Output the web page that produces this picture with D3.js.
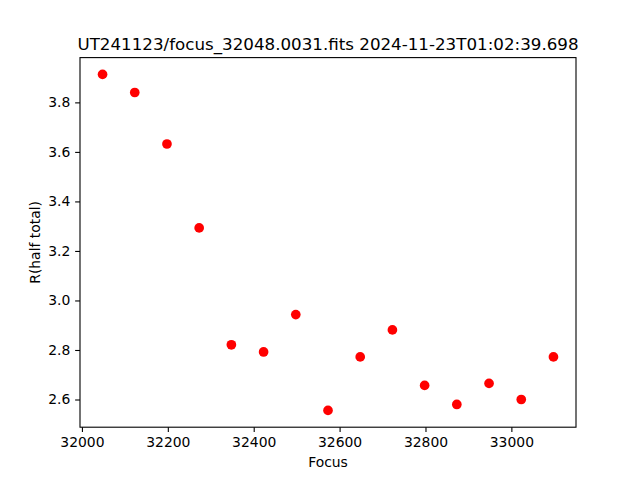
<!DOCTYPE html>
<html><head><meta charset="utf-8">
<script src="https://cdn.jsdelivr.net/npm/d3@7"></script>
<style>body{margin:0;background:#fff}svg{display:block}text{font-family:"DejaVu Sans",sans-serif;fill:#000}</style>
</head><body>
<script>
const focus = [32048,32123,32198,32273,32348,32423,32498,32573,32648,32723,32798,32873,32948,33023,33098];
const rHalf = [3.913,3.840,3.632,3.293,2.821,2.792,2.943,2.556,2.772,2.881,2.657,2.580,2.665,2.600,2.772];
const xTicks = [32000,32200,32400,32600,32800,33000];
const yTicks = [2.6,2.8,3.0,3.2,3.4,3.6,3.8];
const title = "UT241123/focus_32048.0031.fits 2024-11-23T01:02:39.698";

const W=640,H=480,L=80,R=576,T=57.6,B=427.2;
const svg=d3.select("body").append("svg").attr("width",W).attr("height",H);
const xe=d3.extent(focus), ye=d3.extent(rHalf);
const xm=(xe[1]-xe[0])*0.05, ym=(ye[1]-ye[0])*0.05;
const x=d3.scaleLinear().domain([xe[0]-xm,xe[1]+xm]).range([L,R]);
const y=d3.scaleLinear().domain([ye[0]-ym,ye[1]+ym]).range([B,T]);

svg.append("g").selectAll("circle").data(focus).join("circle")
  .attr("cx",(d)=>x(d)).attr("cy",(d,i)=>y(rHalf[i])).attr("r",4.85).attr("fill","#ff0000");

const xa=svg.append("g").attr("transform",`translate(0,${B})`)
  .call(d3.axisBottom(x).tickValues(xTicks).tickFormat(d3.format("d")).tickSize(4.86).tickPadding(4.9));
const ya=svg.append("g").attr("transform",`translate(${L},0)`)
  .call(d3.axisLeft(y).tickValues(yTicks).tickFormat(d3.format(".1f")).tickSize(4.86).tickPadding(4.9));
[xa,ya].forEach(a=>{a.select(".domain").remove();a.selectAll("text").attr("font-size","13.9px").attr("font-family","DejaVu Sans").attr("fill","#000");a.selectAll("line").attr("stroke","#000").attr("stroke-width",1.1);});

svg.append("rect").attr("x",L).attr("y",T).attr("width",R-L).attr("height",B-T)
  .attr("fill","none").attr("stroke","#000").attr("stroke-width",1.1);

svg.append("text").attr("x",(L+R)/2).attr("y",T-8).attr("text-anchor","middle").attr("font-size","16.7px").text(title);
svg.append("text").attr("x",(L+R)/2).attr("y",467).attr("text-anchor","middle").attr("font-size","13.9px").text("Focus");
svg.append("text").attr("transform",`translate(40,${(T+B)/2}) rotate(-90)`).attr("text-anchor","middle").attr("font-size","13.9px").text("R(half total)");
</script>
</body></html>
